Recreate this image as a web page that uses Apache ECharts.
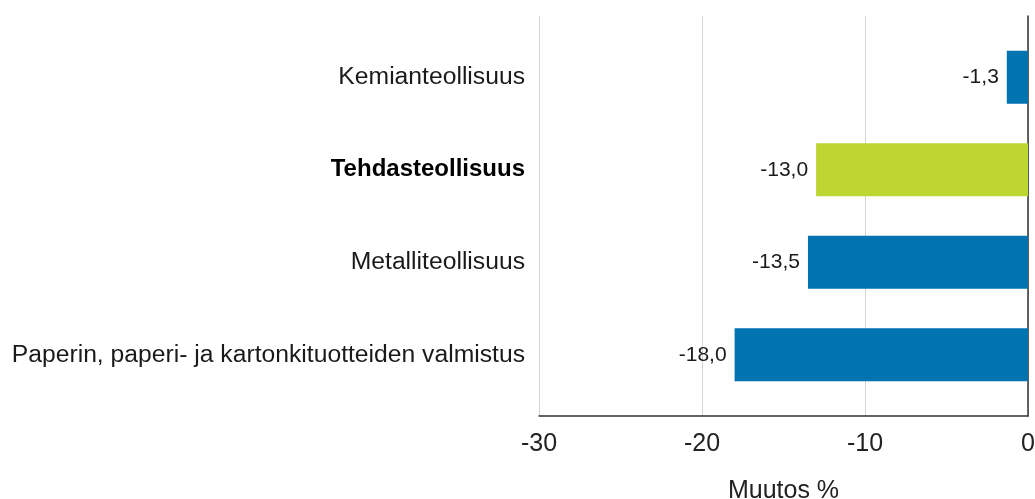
<!DOCTYPE html>
<html>
<head>
<meta charset="utf-8">
<script src="https://cdn.jsdelivr.net/npm/echarts@6/dist/echarts.min.js"></script>
<style>
html,body{margin:0;padding:0;background:#fff;}
#chart{width:1035px;height:499px;}
</style>
</head>
<body>
<div id="chart"></div>
<script>
const categories = ['Kemianteollisuus', 'Tehdasteollisuus', 'Metalliteollisuus', 'Paperin, paperi- ja kartonkituotteiden valmistus'];
const values = [-1.3, -13.0, -13.5, -18.0];
const highlighted = [false, true, false, false];
const axisMin = -30, axisMax = 0, axisStep = 10;
const axisTitle = 'Muutos %';

const BLUE = '#0073B0', GREEN = '#BDD631';
const FONT = '"Liberation Sans", Arial, sans-serif';

const chart = echarts.init(document.getElementById('chart'), null, {renderer: 'canvas'});
chart.setOption({
  animation: false,
  backgroundColor: '#ffffff',
  textStyle: {fontFamily: FONT},
  grid: [
    {left: 539, right: 7, top: 16, bottom: 83, containLabel: false, outerBoundsMode: 'none'},
    {left: 539, right: 7, top: 31, bottom: 98, containLabel: false, outerBoundsMode: 'none'}
  ],
  xAxis: [
    {
      gridIndex: 0, type: 'value', min: axisMin, max: axisMax, interval: axisStep,
      axisLine: {show: true, onZero: false, lineStyle: {color: '#333', width: 1.5}},
      axisTick: {show: false},
      splitLine: {show: true, lineStyle: {color: '#d4d4d4', width: 1}},
      axisLabel: {fontSize: 25, color: '#222', margin: 16, fontFamily: FONT,
        formatter: v => String(v)},
      name: axisTitle, nameLocation: 'middle', nameGap: 63,
      nameTextStyle: {fontSize: 25, color: '#222', fontFamily: FONT}
    },
    {gridIndex: 1, type: 'value', min: axisMin, max: axisMax, show: false}
  ],
  yAxis: [
    {
      gridIndex: 0, type: 'value', min: 0, max: 1, position: 'right',
      axisLine: {show: true, onZero: false, lineStyle: {color: '#333', width: 1.5}},
      axisTick: {show: false}, axisLabel: {show: false}, splitLine: {show: false}
    },
    {
      gridIndex: 1, type: 'category', data: categories, inverse: true,
      axisLine: {show: false}, axisTick: {show: false}, splitLine: {show: false},
      axisLabel: {
        margin: 14, fontSize: 24.7, color: '#1a1a1a', fontFamily: FONT,
        formatter: (v, i) => highlighted[i] ? '{b|' + v + '}' : v,
        rich: {b: {fontWeight: 'bold', fontSize: 24, color: '#000', fontFamily: FONT}}
      }
    }
  ],
  series: [{
    type: 'bar', xAxisIndex: 1, yAxisIndex: 1,
    barWidth: 53,
    data: values.map((v, i) => ({value: v, itemStyle: {color: highlighted[i] ? GREEN : BLUE}})),
    label: {
      show: true, position: 'left', distance: 8,
      fontSize: 21, color: '#1a1a1a', fontFamily: FONT,
      formatter: p => p.value.toFixed(1).replace('.', ',')
    }
  }]
});
</script>
</body>
</html>
